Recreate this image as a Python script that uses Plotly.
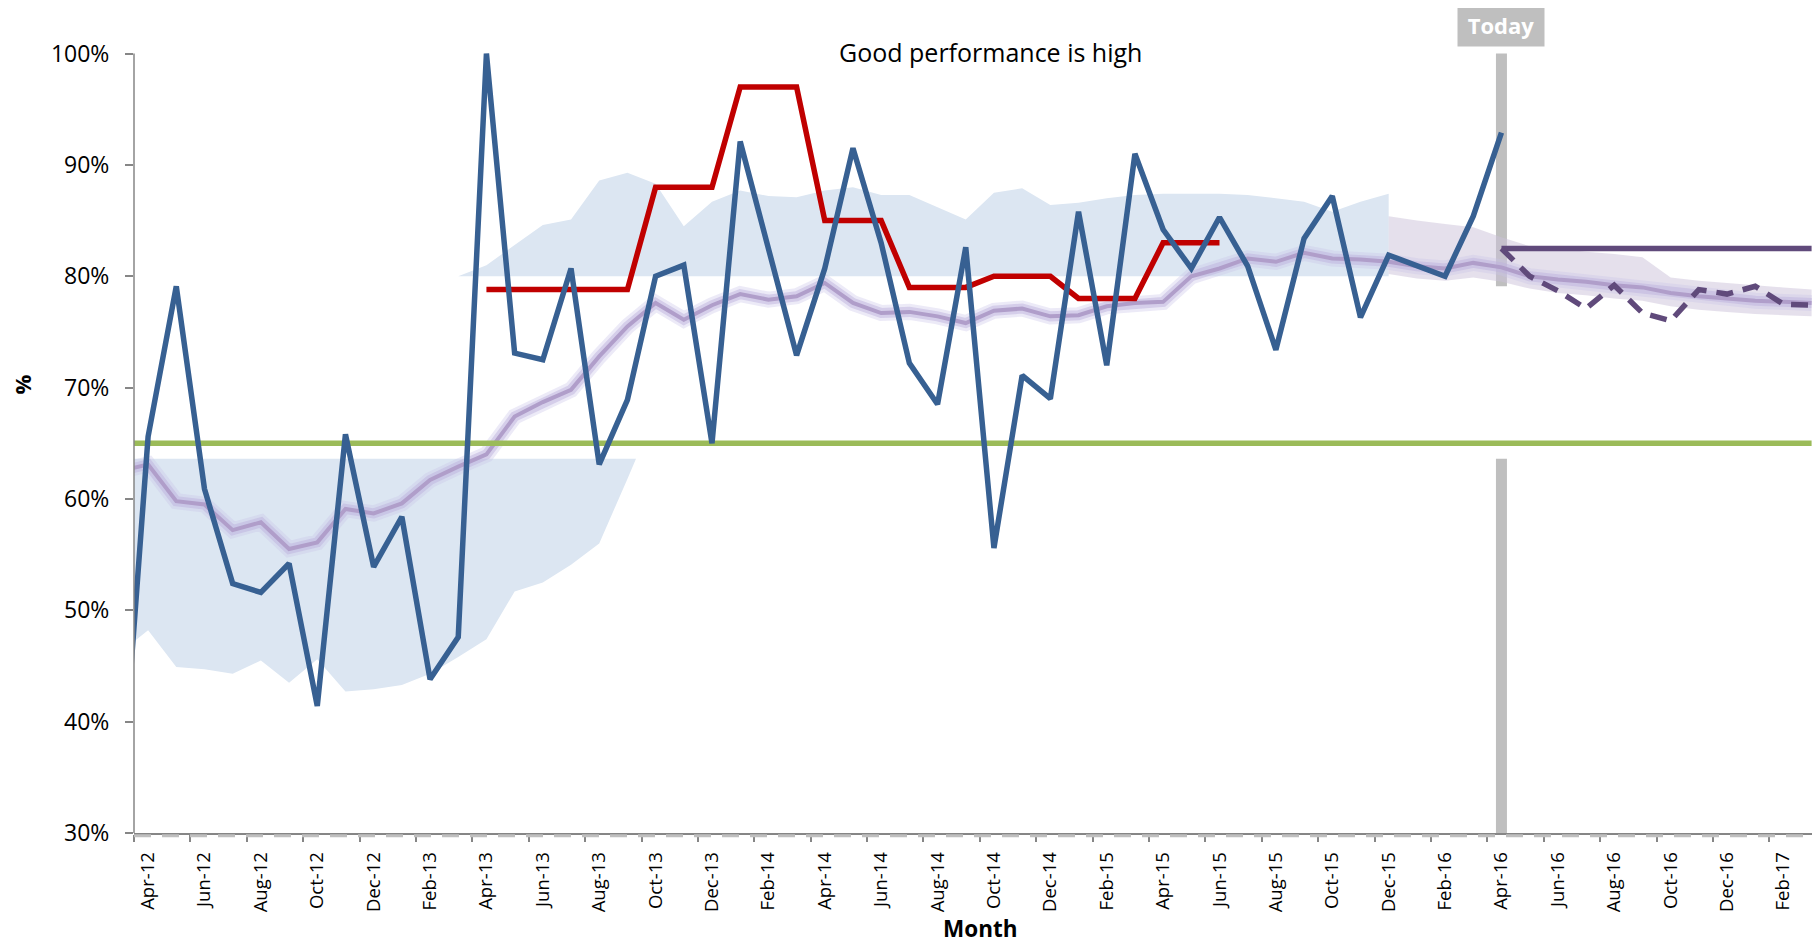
import plotly.graph_objects as go

# ---------------- data ----------------
months = ["Mar-12", "Apr-12", "May-12", "Jun-12", "Jul-12", "Aug-12", "Sep-12", "Oct-12", "Nov-12", "Dec-12",
          "Jan-13", "Feb-13", "Mar-13", "Apr-13", "May-13", "Jun-13", "Jul-13", "Aug-13", "Sep-13", "Oct-13",
          "Nov-13", "Dec-13", "Jan-14", "Feb-14", "Mar-14", "Apr-14", "May-14", "Jun-14", "Jul-14", "Aug-14",
          "Sep-14", "Oct-14", "Nov-14", "Dec-14", "Jan-15", "Feb-15", "Mar-15", "Apr-15", "May-15", "Jun-15",
          "Jul-15", "Aug-15", "Sep-15", "Oct-15", "Nov-15", "Dec-15", "Jan-16", "Feb-16", "Mar-16", "Apr-16",
          "May-16", "Jun-16", "Jul-16", "Aug-16", "Sep-16", "Oct-16", "Nov-16", "Dec-16", "Jan-17", "Feb-17",
          "Mar-17"]

tick_labels = ["Apr-12", "Jun-12", "Aug-12", "Oct-12", "Dec-12", "Feb-13", "Apr-13", "Jun-13", "Aug-13",
               "Oct-13", "Dec-13", "Feb-14", "Apr-14", "Jun-14", "Aug-14", "Oct-14", "Dec-14", "Feb-15",
               "Apr-15", "Jun-15", "Aug-15", "Oct-15", "Dec-15", "Feb-16", "Apr-16", "Jun-16", "Aug-16",
               "Oct-16", "Dec-16", "Feb-17"]

y_ticks = [30, 40, 50, 60, 70, 80, 90, 100]

# actual monthly performance (%), from Mar-12
actual_start = "Mar-12"
actual = [31.4, 65.6, 79.1, 60.9, 52.4, 51.6, 54.2, 41.4, 65.8, 53.9, 58.4, 43.8, 47.6,
          100.0, 73.1, 72.5, 80.7, 63.1, 68.9, 80.0, 81.0, 65.0, 92.1, 82.5, 72.9,
          80.7, 91.5, 83.0, 72.2, 68.5, 82.6, 55.6, 71.1, 69.0, 85.8, 72.0, 91.0,
          84.2, 80.7, 85.3, 80.9, 73.4, 83.4, 87.2, 76.3, 81.9, 81.0, 80.0, 85.4,
          92.9]

# target (%), from Apr-13
target_start = "Apr-13"
target = [78.8, 78.8, 78.8, 78.8, 78.8, 78.8, 88.0, 88.0, 88.0, 97.0, 97.0, 97.0,
          85.0, 85.0, 85.0, 79.0, 79.0, 79.0, 80.0, 80.0, 80.0, 78.0, 78.0, 78.0,
          83.0, 83.0, 83.0]

# smoothed trend (%), from Mar-12
trend_start = "Mar-12"
trend = [62.5, 63.1, 59.8, 59.5, 57.2, 57.9, 55.5, 56.1, 59.1, 58.7, 59.6, 61.7, 62.9,
         64.0, 67.4, 68.7, 69.8, 72.8, 75.5, 77.6, 76.1, 77.4, 78.4, 77.9, 78.2,
         79.4, 77.6, 76.7, 76.8, 76.4, 75.8, 76.9, 77.1, 76.4, 76.5, 77.3, 77.6,
         77.7, 80.0, 80.7, 81.6, 81.3, 82.1, 81.6, 81.5, 81.3, 80.9, 80.7, 81.2,
         80.8, 80.0, 79.7, 79.5, 79.2, 79.0, 78.5, 78.2, 78.0, 77.8, 77.7, 77.6]

# national standard (%)
standard = 65.0

# lower shaded band: lower edge (%), from Mar-12, capped at low_band_cap
low_band_start = "Mar-12"
low_band_edge = [46.2, 48.2, 44.9, 44.7, 44.3, 45.5, 43.5, 45.6, 42.7, 42.9, 43.3, 44.3, 45.8,
                 47.4, 51.7, 52.5, 54.1, 56.0, 61.8, 67.7]
low_band_cap = 63.6

# upper shaded band: upper edge (%), from Mar-13, floor at up_band_floor
up_band_start = "Mar-13"
up_band_edge = [80.0, 81.0, 82.8, 84.6, 85.1, 88.6, 89.3, 88.3, 84.5, 86.7, 87.7, 87.2, 87.1,
                87.7, 88.0, 87.3, 87.3, 86.2, 85.1, 87.5, 87.9, 86.4, 86.6, 87.0, 87.3,
                87.4, 87.4, 87.4, 87.3, 87.0, 86.7, 85.8, 86.7, 87.4]
up_band_floor = 80.0

# forecast band (%), from Dec-15
fc_band_start = "Dec-15"
fc_band_hi = [85.4, 85.0, 84.7, 84.4, 83.5, 82.7, 82.5, 82.2, 82.0, 81.7, 79.9, 79.6, 79.4, 79.2, 79.0, 78.8]
fc_band_lo = [80.2, 79.8, 79.6, 79.9, 79.5, 78.9, 78.5, 78.3, 78.0, 77.8, 77.3, 77.0, 76.8, 76.6, 76.5, 76.4]

# forecasts (%), from Apr-16
fc_start = "Apr-16"
fc_level = [82.5] * 12
fc_projection = [82.5, 80.0, 78.7, 77.1, 79.2, 76.7, 76.0, 78.8, 78.4, 79.1, 77.5, 77.4]

today_label = "Apr-16"
today_segments = [30, 63.6, None, 79.1, 100]

title_text = "Good performance is high"


def xs(start, n):
    s = months.index(start)
    return list(range(s, s + n))


# ---------------- colours ----------------
BLUE = "#376092"
RED = "#C00000"
GREEN = "#9BBB59"
DPURPLE = "#604A7B"
BAND = "#DCE6F2"
GREY = "#BFBFBF"
AXIS = "#868686"
FONT = "Open Sans, sans-serif"
LW = 5.5

fig = go.Figure()

# lower band polygon (clipped at cap)
lx = xs(low_band_start, len(low_band_edge))
px, py = [], []
for k, v in enumerate(low_band_edge):
    if v <= low_band_cap:
        px.append(lx[k]); py.append(v)
    else:
        v0 = low_band_edge[k - 1]
        t = (low_band_cap - v0) / (v - v0)
        px.append(lx[k - 1] + t); py.append(low_band_cap)
        break
poly_x = px + [px[-1], px[0]]
poly_y = py + [low_band_cap, low_band_cap]
fig.add_trace(go.Scatter(x=poly_x, y=poly_y, fill="toself", fillcolor=BAND, mode="none",
                         hoverinfo="skip"))

# upper band polygon
ux = xs(up_band_start, len(up_band_edge))
fig.add_trace(go.Scatter(x=ux + [ux[-1], ux[0]], y=up_band_edge + [up_band_floor, up_band_floor],
                         fill="toself", fillcolor=BAND, mode="none", hoverinfo="skip"))

# today bar
tx = months.index(today_label)
fig.add_trace(go.Scatter(x=[tx if v is not None else None for v in today_segments], y=today_segments,
                         mode="lines", line=dict(color=GREY, width=11), hoverinfo="skip"))

# forecast band
fx = xs(fc_band_start, len(fc_band_hi))
fig.add_trace(go.Scatter(x=fx + fx[::-1], y=fc_band_hi + fc_band_lo[::-1], fill="toself",
                         fillcolor="rgba(204,193,218,0.5)", mode="none", hoverinfo="skip"))

# trend with glow
trx = xs(trend_start, len(trend))
fig.add_trace(go.Scatter(x=trx, y=trend, mode="lines",
                         line=dict(color="rgba(200,195,232,0.35)", width=16), hoverinfo="skip"))
fig.add_trace(go.Scatter(x=trx, y=trend, mode="lines",
                         line=dict(color="rgba(190,178,222,0.5)", width=10), hoverinfo="skip"))
fig.add_trace(go.Scatter(x=trx, y=trend, mode="lines",
                         line=dict(color="rgb(176,158,202)", width=4), hoverinfo="skip"))

# standard
fig.add_trace(go.Scatter(x=list(range(len(months))), y=[standard] * len(months), mode="lines",
                         line=dict(color=GREEN, width=LW)))

# target
fig.add_trace(go.Scatter(x=xs(target_start, len(target)), y=target, mode="lines",
                         line=dict(color=RED, width=LW)))

# actual
fig.add_trace(go.Scatter(x=xs(actual_start, len(actual)), y=actual, mode="lines",
                         line=dict(color=BLUE, width=LW)))

# forecasts
fcx = xs(fc_start, len(fc_level))
fig.add_trace(go.Scatter(x=fcx, y=fc_level, mode="lines", line=dict(color=DPURPLE, width=LW)))
fig.add_trace(go.Scatter(x=fcx, y=fc_projection, mode="lines",
                         line=dict(color=DPURPLE, width=LW, dash="17px,10px")))

tick_pos = [months.index(m) for m in tick_labels]
boundaries = [p - 0.5 for p in tick_pos]

# page body has an 8px margin: figure is sized/positioned so the plot lands where the reference has it
fig.update_layout(
    width=1812, height=939, autosize=False,
    margin=dict(l=126, r=7, t=40, b=114),
    paper_bgcolor="white", plot_bgcolor="white",
    showlegend=False,
    font=dict(family=FONT, color="black"),
    xaxis=dict(range=[0.5, 60.05], tickmode="array", tickvals=tick_pos, ticktext=tick_labels,
               tickangle=-90, ticks="", showline=True, linecolor=AXIS, linewidth=1.5,
               showgrid=False, zeroline=False, tickfont=dict(size=18.5, family=FONT, color="black"),
               ticklabelstandoff=10,
               minor=dict(tickmode="array", tickvals=boundaries, ticks="outside", ticklen=7,
                          tickcolor=AXIS, tickwidth=1.5, showgrid=False)),
    yaxis=dict(range=[30, 100.5], tickmode="array", tickvals=y_ticks,
               ticktext=[f"{v}%" for v in y_ticks], ticks="outside", ticklen=8, tickcolor=AXIS,
               tickwidth=1.5, showline=False, showgrid=False, zeroline=False,
               tickfont=dict(size=23, family=FONT, color="black"), ticklabelstandoff=11),
    shapes=[
        dict(type="line", xref="paper", yref="y", x0=0, x1=0, y0=30, y1=100,
             line=dict(color=AXIS, width=1.5)),
        dict(type="line", xref="paper", yref="paper", x0=0, x1=1, y0=-0.0035, y1=-0.0035,
             line=dict(color=GREY, width=3, dash="17px,11px")),
    ],
    annotations=[
        dict(text=title_text, xref="paper", yref="paper", x=0.5104, y=0.9953, xanchor="center",
             yanchor="middle", showarrow=False, font=dict(size=25, family=FONT, color="black")),
        dict(text="<b>Today</b>", xref="x", yref="paper", x=tx, y=1.0293, xanchor="center",
             yanchor="middle", showarrow=False, bgcolor=GREY, width=84, height=41,
             font=dict(size=22, family=FONT, color="white")),
        dict(text="<b>%</b>", xref="paper", yref="paper", x=-0.0669, y=0.571, xanchor="center",
             yanchor="middle", showarrow=False, textangle=-90,
             font=dict(size=22, family=FONT, color="black")),
        dict(text="<b>Month</b>", xref="paper", yref="paper", x=0.5039, y=-0.1215, xanchor="center",
             yanchor="middle", showarrow=False, font=dict(size=22.5, family=FONT, color="black")),
    ],
)

fig.write_html("out.html")
